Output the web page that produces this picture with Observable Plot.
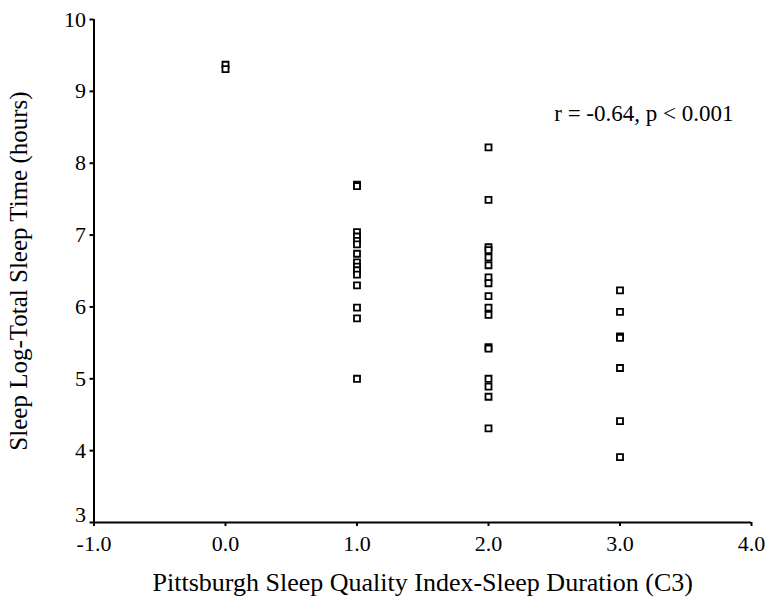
<!DOCTYPE html>
<html>
<head>
<meta charset="utf-8">
<script src="https://cdn.jsdelivr.net/npm/d3@7"></script>
<script src="https://cdn.jsdelivr.net/npm/@observablehq/plot@0.6"></script>
<style>
  html, body { margin: 0; padding: 0; background: #fff; }
  #chart svg { display: block; }
</style>
</head>
<body>
<div id="chart"></div>
<script>
const groupC0 = [9.37, 9.31];
const groupC1 = [7.70, 7.68, 7.04, 6.98, 6.92, 6.87, 6.74, 6.62, 6.56, 6.51, 6.45, 6.30, 5.99, 5.84, 5.00];
const groupC2 = [8.22, 7.49, 6.83, 6.79, 6.69, 6.58, 6.41, 6.33, 6.15, 5.99, 5.89, 5.44, 5.42, 5.00, 4.89, 4.75, 4.31];
const groupC3 = [6.23, 5.93, 5.59, 5.57, 5.15, 4.41, 3.91];
const groupScores = [0, 1, 2, 3];
const xTicks = [-1, 0, 1, 2, 3, 4];
const yTicks = [3, 4, 5, 6, 7, 8, 9, 10];
const xLabel = "Pittsburgh Sleep Quality Index-Sleep Duration (C3)";
const yLabel = "Sleep Log-Total Sleep Time (hours)";
const annotation = "r = -0.64, p < 0.001";

const groups = [groupC0, groupC1, groupC2, groupC3];
const points = groups.flatMap((vals, i) => vals.map(v => ({x: groupScores[i], y: v})));
const yMin = yTicks[0];

const font = "'Liberation Serif', 'Times New Roman', serif";

const chart = Plot.plot({
  width: 767,
  height: 608,
  marginLeft: 93.5,
  marginRight: 16,
  marginTop: 19,
  marginBottom: 86,
  style: {fontFamily: font, fontSize: "22px", color: "#000", background: "#fff"},
  x: {domain: [-1, 4]},
  y: {domain: [3, 10]},
  marks: [
    Plot.axisX({ticks: xTicks, tickFormat: d => d.toFixed(1), tickSize: 4, tickPadding: 9, label: null, fontSize: 22, strokeWidth: 2}),
    Plot.axisY({ticks: yTicks, tickFormat: d => d === yMin ? "" : String(d), tickSize: 4, tickPadding: 4, label: null, fontSize: 22, strokeWidth: 2}),
    Plot.axisY({ticks: [yMin], tickFormat: d => String(d), tickSize: 0, tickPadding: 8, dy: -8, label: null, fontSize: 22}),
    Plot.ruleX([-1], {stroke: "#000", strokeWidth: 2}),
    Plot.ruleY([3], {stroke: "#000", strokeWidth: 2}),
    Plot.dot(points, {x: "x", y: "y", symbol: "square", r: 3.4, stroke: "#000", fill: "#fff", strokeWidth: 1.8}),
    Plot.text([annotation], {frameAnchor: "top-right", dx: -18, dy: 85, fontSize: 23, fill: "#000", textAnchor: "end"}),
    Plot.text([xLabel], {frameAnchor: "bottom", dy: 68, fontSize: 26, fill: "#000"}),
    Plot.text([yLabel], {frameAnchor: "left", rotate: -90, dx: -75, textAnchor: "middle", fontSize: 25, fill: "#000"})
  ]
});
document.getElementById("chart").appendChild(chart);
</script>
</body>
</html>
